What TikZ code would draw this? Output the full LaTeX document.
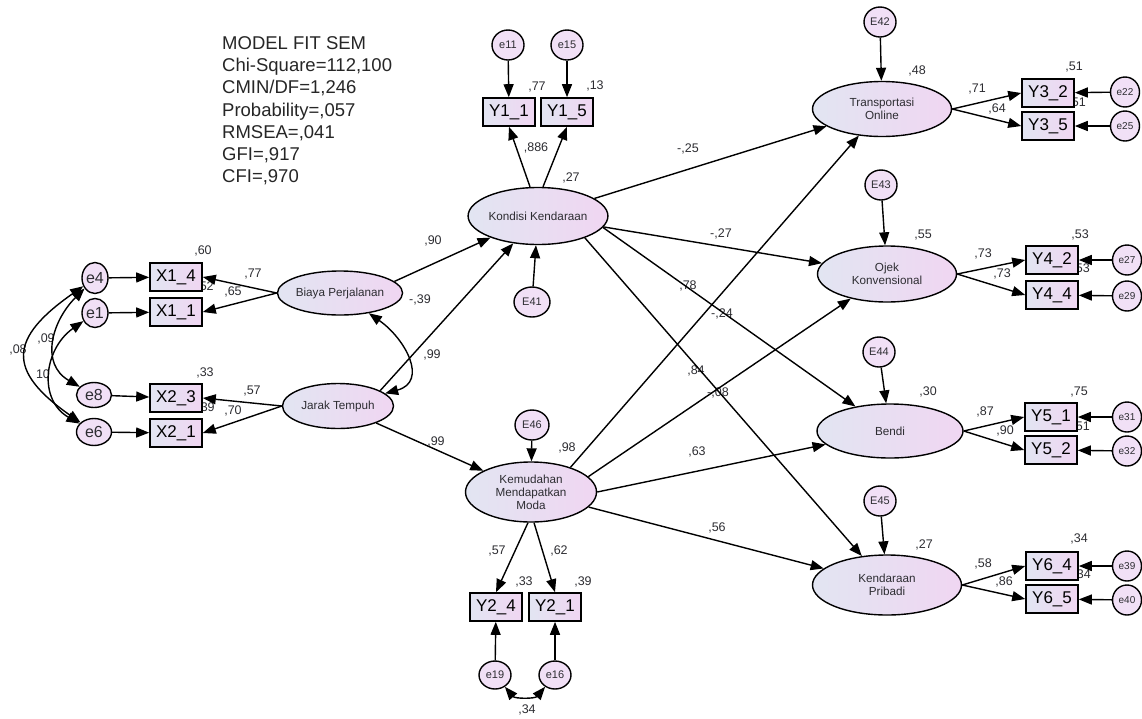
\documentclass[tikz,border=0pt]{standalone}
\usepackage{fontspec}
\setmainfont{Liberation Sans}
\usetikzlibrary{shapes.geometric,arrows.meta}
\definecolor{fillL}{RGB}{226,229,242}
\definecolor{fillR}{RGB}{240,214,242}
\definecolor{errfill}{RGB}{241,224,246}
\definecolor{txt}{RGB}{45,45,50}

\tikzset{latent/.style={ellipse,draw,line width=1.4pt,left color=fillL,right color=fillR,
           inner sep=0pt,align=center,text=txt,font=\fontsize{11.7}{13}\selectfont},
         obs/.style={rectangle,draw,line width=1.6pt,left color=fillL,right color=fillR,
           minimum width=52pt,minimum height=28pt,inner sep=0pt,font=\fontsize{17}{17}\selectfont},
         err/.style={ellipse,draw,line width=1.4pt,fill=errfill,inner sep=0pt,
           minimum width=32pt,minimum height=30pt,text=txt,font=\fontsize{11}{11}\selectfont},
         bigerr/.style={err,font=\fontsize{16}{16}\selectfont},
         reg/.style={-{Triangle[length=13pt,width=10pt]},line width=1.4pt},
         cov/.style={{Triangle[length=13pt,width=10pt]}-{Triangle[length=13pt,width=10pt]},line width=1.4pt},
         coef/.style={inner sep=0pt,text=txt,font=\fontsize{12.5}{13}\selectfont}}

\begin{document}
\begin{tikzpicture}[x=1pt,y=-1pt]
\useasboundingbox (0,0) rectangle (1142,718);
\node[anchor=north west,align=left,inner sep=0pt,text=black!85,
      font=\fontsize{18.5}{22.3}\selectfont] (fit) at (222,36)
 {MODEL FIT SEM\\Chi-Square=112,100\\CMIN/DF=1,246\\Probability=,057\\RMSEA=,041\\GFI=,917\\CFI=,970};

% estimates
\node[coef] (r14) at (203,251) {,60};
\node[coef] (l14) at (253,274) {,77};
\node[coef] (r11) at (205,287) {,52};
\node[coef] (l11) at (233,292) {,65};
\node[coef] (r23) at (205,373) {,33};
\node[coef] (l23) at (252,391) {,57};
\node[coef] (r21) at (206,408) {,39};
\node[coef] (l21) at (233,411) {,70};
\node[coef] (c46) at (18,350) {,08};
\node[coef] (c48) at (46,339) {,09};
\node[coef] (c16) at (43,374) {10};
\node[coef] (cbj) at (432,355) {,99};
\node[coef] (bk) at (433,241) {,90};
\node[coef] (jk) at (420,300) {-,39};
\node[coef] (jm) at (436,442) {,99};
\node[coef] (r1a) at (537,87) {,77};
\node[coef] (r1b) at (595,86) {,13};
\node[coef] (l1) at (536,148) {,886};
\node[coef] (rk) at (571,178) {,27};
\node[coef] (rm) at (567,448) {,98};
\node[coef] (l2a) at (497,551) {,57};
\node[coef] (l2b) at (559,551) {,62};
\node[coef] (r2a) at (524,582) {,33};
\node[coef] (r2b) at (583,582) {,39};
\node[coef] (c2) at (527,710) {,34};
\node[coef] (kt) at (688,149) {-,25};
\node[coef] (ko) at (721,234) {-,27};
\node[coef] (mt) at (688,286) {,78};
\node[coef] (kb) at (722,314) {-,24};
\node[coef] (kp) at (696,371) {,84};
\node[coef] (mo) at (718,393) {-,08};
\node[coef] (mb) at (697,452) {,63};
\node[coef] (mp) at (717,528) {,56};
\node[coef] (rt) at (917,71) {,48};
\node[coef] (l3a) at (977,89) {,71};
\node[coef] (l3b) at (997,109) {,64};
\node[coef] (r3a) at (1074,67) {,51};
\node[coef] (r3b) at (1077,103) {,51};
\node[coef] (ro) at (923,235) {,55};
\node[coef] (l4a) at (983,254) {,73};
\node[coef] (l4b) at (1002,274) {,73};
\node[coef] (r4a) at (1080,235) {,53};
\node[coef] (r4b) at (1081,269) {,53};
\node[coef] (rb) at (928,392) {,30};
\node[coef] (l5a) at (985,412) {,87};
\node[coef] (l5b) at (1005,431) {,90};
\node[coef] (r5a) at (1079,392) {,75};
\node[coef] (r5b) at (1081,427) {,51};
\node[coef] (rp) at (924,545) {,27};
\node[coef] (l6a) at (983,564) {,58};
\node[coef] (l6b) at (1004,582) {,86};
\node[coef] (r6a) at (1079,539) {,34};
\node[coef] (r6b) at (1082,575) {,34};

% latent variables
\node[latent,minimum width=115pt,minimum height=44pt] (biaya) at (340,293) {Biaya Perjalanan};
\node[latent,minimum width=111pt,minimum height=45pt] (jarak) at (338,406) {Jarak Tempuh};
\node[latent,minimum width=117pt,minimum height=57pt] (kondisi) at (538,216) {Kondisi Kendaraan};
\node[latent,minimum width=131pt,minimum height=60pt] (kemudahan) at (531,492) {Kemudahan\\Mendapatkan\\Moda};
\node[latent,minimum width=139pt,minimum height=55pt] (trans) at (882,109) {Transportasi\\Online};
\node[latent,minimum width=139pt,minimum height=56pt] (ojek) at (887,274) {Ojek\\Konvensional};
\node[latent,minimum width=146pt,minimum height=54pt] (bendi) at (890,431) {Bendi};
\node[latent,minimum width=149pt,minimum height=60pt] (pribadi) at (887,585) {Kendaraan\\Pribadi};

% observed
\node[obs] (x14) at (176,277) {X1\_4};
\node[obs] (x11) at (176,312) {X1\_1};
\node[obs] (x23) at (176,398) {X2\_3};
\node[obs] (x21) at (176,433) {X2\_1};
\node[obs] (y11) at (509,112) {Y1\_1};
\node[obs] (y15) at (567,112) {Y1\_5};
\node[obs] (y24) at (496,607) {Y2\_4};
\node[obs] (y21) at (555,607) {Y2\_1};
\node[obs] (y32) at (1048,93) {Y3\_2};
\node[obs] (y35) at (1048,126) {Y3\_5};
\node[obs] (y42) at (1052,260) {Y4\_2};
\node[obs] (y44) at (1052,295) {Y4\_4};
\node[obs] (y51) at (1051,417) {Y5\_1};
\node[obs] (y52) at (1051,450) {Y5\_2};
\node[obs] (y64) at (1052,566) {Y6\_4};
\node[obs] (y65) at (1052,599) {Y6\_5};

% errors
\node[bigerr,minimum width=26pt,minimum height=31pt] (e4) at (95,278) {e4};
\node[bigerr,minimum width=26pt,minimum height=29pt] (e1) at (95,313) {e1};
\node[bigerr,minimum width=35pt,minimum height=25pt] (e8) at (94,395) {e8};
\node[bigerr,minimum width=35pt,minimum height=27pt] (e6) at (94,432) {e6};
\node[err] (e11) at (508,45) {e11};
\node[err] (e15) at (567,45) {e15};
\node[err,minimum width=36pt] (E41) at (532,302) {E41};
\node[err,minimum width=34pt] (E46) at (532,425) {E46};
\node[err,minimum height=28pt] (e19) at (495,675) {e19};
\node[err,minimum height=28pt] (e16) at (555,675) {e16};
\node[err] (E42) at (880,22) {E42};
\node[err] (E43) at (881,185) {E43};
\node[err] (E44) at (879,352) {E44};
\node[err] (E45) at (880,501) {E45};
\node[err,minimum width=29pt,font=\fontsize{10}{10}\selectfont] (e22) at (1125,92) {e22};
\node[err,minimum width=29pt,font=\fontsize{10}{10}\selectfont] (e25) at (1125,126) {e25};
\node[err,minimum width=29pt,font=\fontsize{10}{10}\selectfont] (e27) at (1127,260) {e27};
\node[err,minimum width=29pt,font=\fontsize{10}{10}\selectfont] (e29) at (1127,296) {e29};
\node[err,minimum width=29pt,font=\fontsize{10}{10}\selectfont] (e31) at (1127,417) {e31};
\node[err,minimum width=29pt,font=\fontsize{10}{10}\selectfont] (e32) at (1127,451) {e32};
\node[err,minimum width=29pt,font=\fontsize{10}{10}\selectfont] (e39) at (1127,566) {e39};
\node[err,minimum width=29pt,font=\fontsize{10}{10}\selectfont] (e40) at (1127,600) {e40};

% measurement
\draw[reg] (biaya.west) -- (x14.east);
\draw[reg] (biaya.west) -- (x11.east);
\draw[reg] (jarak.west) -- (x23.east);
\draw[reg] (jarak.west) -- (x21.east);
\draw[reg] (e4) -- (x14);
\draw[reg] (e1) -- (x11);
\draw[reg] (e8) -- (x23);
\draw[reg] (e6) -- (x21);
\draw[reg] ([xshift=-8pt]kondisi.north) -- (y11.south);
\draw[reg] ([xshift=5pt]kondisi.north) -- (y15.south);
\draw[reg] (e11) -- (y11);
\draw[reg] (e15) -- (y15);
\draw[reg] ([xshift=-3pt]kemudahan.south) -- (y24.north);
\draw[reg] ([xshift=3pt]kemudahan.south) -- (y21.north);
\draw[reg] (e19) -- (y24);
\draw[reg] (e16) -- (y21);
\draw[reg] (trans.east) -- (y32.west);
\draw[reg] (trans.east) -- (y35.west);
\draw[reg] (ojek.east) -- (y42.west);
\draw[reg] (ojek.east) -- (y44.west);
\draw[reg] (bendi.east) -- (y51.west);
\draw[reg] (bendi.east) -- (y52.west);
\draw[reg] (pribadi.east) -- (y64.west);
\draw[reg] (pribadi.east) -- (y65.west);
\draw[reg] (e22) -- (y32);
\draw[reg] (e25) -- (y35);
\draw[reg] (e27) -- (y42);
\draw[reg] (e29) -- (y44);
\draw[reg] (e31) -- (y51);
\draw[reg] (e32) -- (y52);
\draw[reg] (e39) -- (y64);
\draw[reg] (e40) -- (y65);

% structural
\draw[reg] (biaya.12) -- (kondisi);
\draw[reg] (jarak.20) -- (kondisi);
\draw[reg] (jarak) -- (kemudahan);
\draw[reg] (E41) -- (kondisi);
\draw[reg] (E46) -- (kemudahan);
\draw[reg] (kondisi) -- (trans);
\draw[reg] (kondisi) -- (ojek);
\draw[reg] (kondisi.-10) -- (bendi);
\draw[reg] (kondisi.-25) -- (pribadi);
\draw[reg] (kemudahan.32) -- (trans);
\draw[reg] (kemudahan.15) -- (ojek);
\draw[reg] (kemudahan.east) -- (bendi);
\draw[reg] (kemudahan) -- (pribadi);
\draw[reg] (E42) -- (trans);
\draw[reg] (E43) -- (ojek);
\draw[reg] (E44) -- (bendi);
\draw[reg] (E45) -- (pribadi);

% covariances
\draw[cov] (e4) to[out=215,in=145,looseness=1.7] (e6);
\draw[cov] (e4) to[out=225,in=150,looseness=1.2] (e8);
\draw[cov] (e1) to[out=215,in=150,looseness=1.2] (e6);
\draw[cov] (biaya) to[out=-35,in=15,looseness=1.4] (jarak);
\draw[cov] (e19) to[out=-50,in=-130] (e16);
\end{tikzpicture}
\end{document}
